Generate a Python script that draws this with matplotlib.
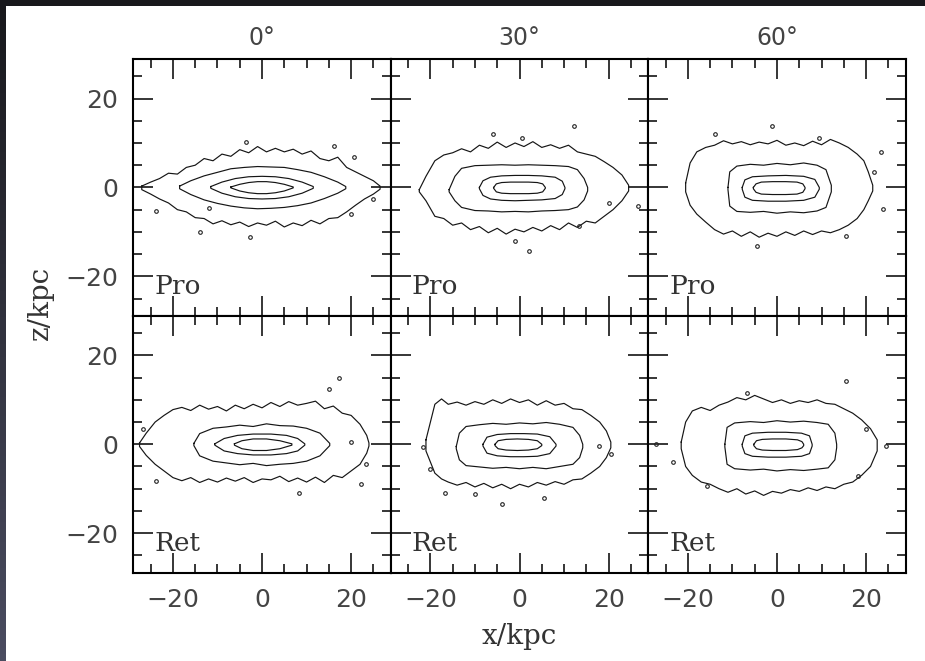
import numpy as np
import matplotlib
matplotlib.use("Agg")
from matplotlib import pyplot as plt
from matplotlib.ticker import MultipleLocator

# column titles and row labels
col_titles = ["0\u00b0", "30\u00b0", "60\u00b0"]
row_labels = ["Pro", "Ret"]
tick_vals = [-20, 0, 20]

# each contour: (x, upper z, lower z) in kpc
pro0_c1 = [(-7, 0.1, -0.1), (-5, 0.7, -0.8), (-3, 1.1, -1.2), (-1, 1.3, -1.4), (1, 1.3, -1.4), (3, 1.1, -1.2), (5, 0.7, -0.8), (7, 0.1, -0.1)]
pro0_c2 = [(-11.5, 0.2, -0.2), (-9, 1.2, -1.3), (-6, 2.0, -2.1), (-3, 2.4, -2.5), (0, 2.5, -2.6), (3, 2.4, -2.5), (6, 2.0, -2.1), (9, 1.2, -1.3), (11.5, 0.2, -0.2)]
pro0_c3 = [(-18.5, 0.3, -0.3), (-16, 1.5, -1.6), (-13, 2.6, -2.8), (-10, 3.4, -3.6), (-7, 4.2, -4.2), (-4, 4.5, -4.6), (-1, 4.7, -4.8), (2, 4.6, -4.7), (5, 4.5, -4.5), (8, 4.0, -4.1), (11, 3.4, -3.5), (14, 2.4, -2.5), (17, 1.2, -1.3), (18.8, 0.2, -0.3)]
pro0_c4 = [(-27, 0.3, -0.5), (-25, 1.2, -1.5), (-23, 2.0, -2.6), (-21, 3.2, -3.5), (-19, 3.0, -5.0), (-17, 4.5, -5.5), (-15, 5.0, -6.8), (-13, 6.5, -7.0), (-11, 6.0, -8.2), (-9, 7.5, -7.5), (-7, 7.0, -8.4), (-5, 8.5, -7.8), (-3, 7.8, -8.8), (-1, 9.2, -8.0), (1, 8.0, -8.5), (3, 8.8, -7.6), (5, 8.0, -8.9), (7, 8.6, -8.0), (9, 7.5, -8.6), (11, 8.2, -7.4), (13, 6.5, -8.2), (15, 6.0, -7.0), (17, 6.8, -6.8), (19, 4.5, -5.5), (21, 3.5, -4.0), (23, 2.5, -2.6), (25, 1.5, -1.5), (26.5, 0.3, -0.4)]
pro0_dots = [(-13.9, -10.1), (-2.8, -11.2), (-23.9, -5.2), (16.1, 9.4), (25.0, -2.6), (20.0, -6.0), (-3.7, 10.3), (-12.0, -4.7), (20.6, 6.9)]

pro30_c1 = [(-5.8, 0, -0.2), (-5.2, 0.8, -1.0), (-4, 1.1, -1.3), (-2, 1.2, -1.4), (0, 1.2, -1.4), (2, 1.2, -1.4), (4, 1.1, -1.3), (5.2, 0.8, -1.0), (5.8, 0, -0.2)]
pro30_c2 = [(-9, 0, -0.3), (-8.2, 1.5, -1.8), (-6.5, 2.3, -2.6), (-4, 2.6, -2.9), (-1, 2.7, -3.0), (2, 2.7, -2.9), (5, 2.6, -2.8), (8, 2.3, -2.5), (9.6, 1.4, -1.6), (10.2, 0, -0.3)]
pro30_c3 = [(-15.8, -0.5, -1.0), (-14.5, 2.5, -3.0), (-13, 4.3, -4.5), (-10, 4.9, -5.2), (-7, 5.0, -5.3), (-4, 5.1, -5.5), (-1, 5.0, -5.4), (2, 5.1, -5.5), (5, 5.0, -5.3), (8, 4.9, -5.2), (11, 4.7, -5.0), (13, 4.0, -4.4), (14.5, 2.0, -2.8), (15.3, 0, -0.8)]
pro30_c4 = [(-22.5, -0.5, -1.0), (-21, 2.5, -3.0), (-19, 6.0, -6.5), (-17, 7.3, -7.0), (-15, 7.8, -8.5), (-13, 8.7, -8.0), (-11, 8.0, -9.5), (-9, 9.5, -8.8), (-7, 8.8, -10.2), (-5, 10.2, -9.2), (-3, 9.0, -10.5), (-1, 10.0, -9.4), (1, 9.2, -10.0), (3, 10.3, -9.0), (5, 9.0, -9.8), (7, 9.6, -8.6), (9, 8.8, -9.5), (11, 9.5, -8.0), (13, 8.0, -9.0), (15, 7.5, -7.6), (17, 7.0, -8.0), (19, 5.8, -6.5), (21, 4.5, -5.0), (23, 2.8, -3.0), (24.5, 0.5, -0.8)]
pro30_dots = [(0.5, 11.2), (12.2, 13.9), (2.2, -14.2), (-1.1, -12.0), (20.0, -3.4), (26.7, -4.1), (13.3, -8.6), (-6.0, 12.0)]

pro60_c1 = [(-5.3, 0, -0.3), (-4.7, 0.8, -1.1), (-3.5, 1.2, -1.5), (-1, 1.3, -1.6), (2, 1.3, -1.6), (4.5, 1.2, -1.5), (5.8, 0.8, -1.1), (6.3, 0, -0.3)]
pro60_c2 = [(-7.8, 0, -0.4), (-7.2, 1.7, -2.2), (-5.5, 2.4, -2.9), (-2, 2.6, -3.1), (2, 2.7, -3.1), (6, 2.5, -2.9), (8.5, 1.8, -2.2), (9.5, 0, -0.4)]
pro60_c3 = [(-11, 0, -0.5), (-10.6, 3.5, -4.2), (-9, 4.8, -5.4), (-6, 5.2, -5.6), (-3, 5.0, -5.4), (0, 5.4, -5.8), (3, 5.1, -5.5), (6, 5.5, -5.7), (9, 5.0, -5.3), (11, 4.0, -4.5), (12.2, 0.5, -1.0)]
pro60_c4 = [(-20.5, 1.0, -1.0), (-19.5, 5.5, -4.0), (-18, 8.0, -6.0), (-16, 9.0, -7.8), (-14, 9.5, -9.5), (-12, 10.5, -10.5), (-10, 9.8, -9.8), (-8, 10.3, -11.0), (-6, 9.6, -10.0), (-4, 10.2, -11.2), (-2, 9.8, -10.3), (0, 10.6, -11.0), (2, 9.5, -10.0), (4, 10.0, -10.8), (6, 9.4, -9.8), (8, 10.4, -10.6), (10, 9.6, -9.8), (12, 10.8, -10.2), (14, 10.0, -9.5), (16, 9.0, -8.5), (18, 7.5, -7.0), (19.5, 6.0, -5.0), (20.5, 3.5, -3.0), (21.5, 0.5, -0.8)]
pro60_dots = [(-1.1, 13.9), (23.3, 7.9), (21.7, 3.4), (15.6, -10.9), (-4.4, -13.1), (23.9, -4.9), (9.4, 11.2), (-14.0, 12.0)]

ret0_c1 = [(-6.2, 0.1, -0.2), (-4.5, 0.8, -1.0), (-2, 1.2, -1.4), (1, 1.2, -1.4), (4, 0.8, -1.0), (6.7, 0.1, -0.2)]
ret0_c2 = [(-10.6, 0.1, -0.2), (-8.5, 1.3, -1.5), (-5.5, 2.0, -2.1), (-2, 2.3, -2.4), (2, 2.3, -2.4), (5.5, 2.0, -2.1), (8, 1.3, -1.5), (9.6, 0.1, -0.2)]
ret0_c3 = [(-15.3, 0.2, -0.3), (-14, 2.4, -2.6), (-11, 3.6, -3.8), (-8, 3.9, -4.2), (-5, 4.3, -4.6), (-2, 4.0, -4.3), (1, 4.6, -4.8), (4, 4.2, -4.5), (7, 4.1, -4.3), (10, 3.6, -3.8), (13, 2.5, -2.6), (15.2, 0.2, -0.3)]
ret0_c4 = [(-27.5, 0.3, -0.5), (-26, 2.5, -2.5), (-24, 5.0, -4.5), (-22, 6.5, -6.0), (-20, 7.8, -7.5), (-18, 8.3, -8.2), (-16, 7.6, -7.5), (-14, 8.8, -8.6), (-12, 7.9, -7.8), (-10, 8.5, -8.5), (-8, 7.5, -7.6), (-6, 8.8, -8.3), (-4, 8.0, -7.5), (-2, 9.0, -8.6), (0, 8.2, -7.8), (2, 9.4, -8.0), (4, 8.5, -7.2), (6, 9.6, -8.4), (8, 8.8, -7.6), (10, 9.2, -8.5), (12, 9.7, -7.4), (14, 8.0, -8.6), (16, 8.6, -7.0), (18, 7.0, -7.5), (20, 6.5, -6.0), (22, 4.5, -4.5), (23.5, 2.0, -2.0), (24, 0.3, -0.4)]
ret0_dots = [(17.2, 15.0), (15.0, 12.4), (8.3, -10.9), (-26.7, 3.4), (-23.9, -8.2), (22.2, -9.0), (20.0, 0.4), (23.3, -4.5)]

ret30_c1 = [(-5.5, 0, -0.3), (-4.8, 0.8, -1.0), (-3, 1.1, -1.3), (-0.5, 1.2, -1.4), (2, 1.1, -1.3), (4, 0.8, -1.0), (5, 0, -0.3)]
ret30_c2 = [(-8.2, 0, -0.4), (-7.3, 1.6, -2.0), (-5, 2.2, -2.6), (-2, 2.4, -2.8), (1, 2.4, -2.8), (4, 2.3, -2.7), (6.8, 1.7, -2.1), (8.2, 0, -0.4)]
ret30_c3 = [(-14.2, -0.5, -1.0), (-13.5, 2.5, -3.5), (-12, 4.0, -4.8), (-9, 4.4, -5.1), (-6, 4.7, -5.4), (-3, 4.5, -5.2), (0, 4.8, -5.5), (3, 4.6, -5.2), (6, 4.9, -5.5), (9, 4.5, -5.0), (12, 3.8, -4.5), (13.5, 2.0, -3.0), (14.2, 0, -0.8)]
ret30_c4 = [(-21, 1.0, -1.5), (-20, 5.0, -4.0), (-19, 9.0, -6.5), (-17.5, 10.2, -7.8), (-16, 9.0, -8.5), (-14, 9.5, -9.2), (-12, 8.8, -8.6), (-10, 9.6, -9.6), (-8, 9.0, -8.8), (-6, 10.0, -9.8), (-4, 9.2, -9.0), (-2, 10.2, -10.0), (0, 9.4, -9.0), (2, 10.0, -9.6), (4, 8.8, -8.6), (6, 9.8, -9.2), (8, 8.8, -8.4), (10, 9.2, -9.0), (12, 8.0, -8.0), (14, 7.8, -7.8), (16, 6.5, -6.5), (18, 5.0, -5.0), (19.5, 3.0, -3.0), (20.5, 0.5, -0.8)]
ret30_dots = [(-16.7, -10.9), (-10.0, -11.2), (5.6, -12.0), (20.6, -2.2), (-21.7, -0.7), (-20.0, -5.6), (17.8, -0.4), (-4.0, -13.5)]

ret60_c1 = [(-5.2, 0, -0.3), (-4.6, 0.8, -1.0), (-3.3, 1.1, -1.3), (-1, 1.2, -1.4), (2, 1.2, -1.4), (4.6, 1.0, -1.2), (5.6, 0.6, -0.8), (6.0, 0, -0.3)]
ret60_c2 = [(-7.8, 0, -0.4), (-7.2, 1.9, -2.1), (-5.5, 2.5, -2.7), (-2, 2.7, -2.9), (2, 2.7, -2.9), (5.5, 2.5, -2.7), (7.3, 1.9, -2.1), (7.9, 0, -0.4)]
ret60_c3 = [(-11.7, 0, -0.6), (-11.2, 3.8, -4.5), (-9.5, 4.8, -5.5), (-6, 5.1, -5.8), (-3, 4.9, -5.6), (0, 5.3, -6.0), (3, 5.0, -5.7), (6, 5.2, -5.9), (9, 4.9, -5.6), (11.5, 4.5, -5.3), (13, 2.5, -3.5), (13.4, 0, -0.8)]
ret60_c4 = [(-21.5, 0.5, -1.0), (-20.5, 5.0, -5.0), (-19, 7.5, -7.0), (-17, 8.3, -8.5), (-15, 7.6, -9.0), (-13, 8.8, -10.0), (-11, 9.5, -10.8), (-9, 10.5, -10.0), (-7, 10.0, -11.2), (-5, 11.0, -10.5), (-3, 10.2, -11.5), (-1, 9.4, -10.6), (1, 10.0, -11.0), (3, 9.2, -10.2), (5, 9.8, -10.6), (7, 9.4, -9.8), (9, 10.0, -10.4), (11, 9.2, -9.6), (13, 9.0, -10.0), (15, 8.0, -9.0), (17, 7.0, -8.5), (19, 5.5, -7.0), (21, 3.5, -5.0), (22.5, 1.0, -1.5)]
ret60_dots = [(15.6, 14.2), (-27.2, 0.0), (24.4, -0.4), (18.3, -7.1), (-15.6, -9.4), (-23.4, -4.0), (-6.7, 11.6), (20.0, 3.5)]

panels = [
    [[pro0_c1, pro0_c2, pro0_c3, pro0_c4], [pro30_c1, pro30_c2, pro30_c3, pro30_c4], [pro60_c1, pro60_c2, pro60_c3, pro60_c4]],
    [[ret0_c1, ret0_c2, ret0_c3, ret0_c4], [ret30_c1, ret30_c2, ret30_c3, ret30_c4], [ret60_c1, ret60_c2, ret60_c3, ret60_c4]],
]
dots = [[pro0_dots, pro30_dots, pro60_dots], [ret0_dots, ret30_dots, ret60_dots]]

fig = plt.figure(figsize=(9.25, 6.61), dpi=100, facecolor="white")

# dark frame of the screenshot
fig.patches.append(plt.Rectangle((0, 1 - 6 / 661), 1, 6 / 661, transform=fig.transFigure,
                                 facecolor="#18181c", edgecolor="none", zorder=0))
band = fig.add_axes([0, 0, 6 / 925, 1])
grad = np.linspace(0, 1, 100)[:, None]
band.imshow(grad, aspect="auto", cmap=matplotlib.colors.LinearSegmentedColormap.from_list(
    "b", ["#18181c", "#4a4c60"]), extent=(0, 1, 0, 1), origin="upper")
band.axis("off")

gs = fig.add_gridspec(2, 3, left=133.3 / 925, right=905.7 / 925, top=1 - 59 / 661,
                      bottom=1 - 572.7 / 661, wspace=0, hspace=0)

lim = 28.9
for r in range(2):
    for c in range(3):
        ax = fig.add_subplot(gs[r, c])
        for cont in panels[r][c]:
            xs = [p[0] for p in cont]
            up = [p[1] for p in cont]
            lo = [p[2] for p in cont]
            px = xs + xs[::-1] + [xs[0]]
            pz = up + lo[::-1] + [up[0]]
            ax.plot(px, pz, color="#151515", lw=0.85)
        d = dots[r][c]
        ax.plot([p[0] for p in d], [p[1] for p in d], "o", ms=2.6, mfc="none",
                mec="#222222", mew=0.8)
        ax.set_xlim(-lim, lim)
        ax.set_ylim(-lim, lim)
        ax.xaxis.set_minor_locator(MultipleLocator(5))
        ax.yaxis.set_minor_locator(MultipleLocator(5))
        ax.tick_params(which="both", direction="in", top=True, right=True,
                       labelsize=18, labelcolor="#444444", pad=11)
        ax.tick_params(which="major", length=14.4, width=1.1)
        ax.tick_params(which="minor", length=6.8, width=1.1)
        for s in ax.spines.values():
            s.set_linewidth(1.5)
        ax.set_xticks(tick_vals)
        ax.set_yticks(tick_vals)
        if c != 0:
            ax.set_yticklabels([])
        if r != 1:
            ax.set_xticklabels([])
        if r == 0:
            ax.set_title(col_titles[c], fontsize=17, color="#444444", pad=10)
        ax.text(-24.2, -24.0, row_labels[r], fontsize=19, family="DejaVu Serif",
                color="#333333", va="baseline", ha="left")

fig.text(519.5 / 925, 1 - 636 / 661, "x/kpc", fontsize=20, family="DejaVu Serif",
         color="#333333", ha="center", va="center")
fig.text(40 / 925, 1 - 303 / 661, "z/kpc", fontsize=20, family="DejaVu Serif",
         color="#333333", ha="center", va="center", rotation=90)

fig.savefig("out.png", dpi=100, facecolor="white")
